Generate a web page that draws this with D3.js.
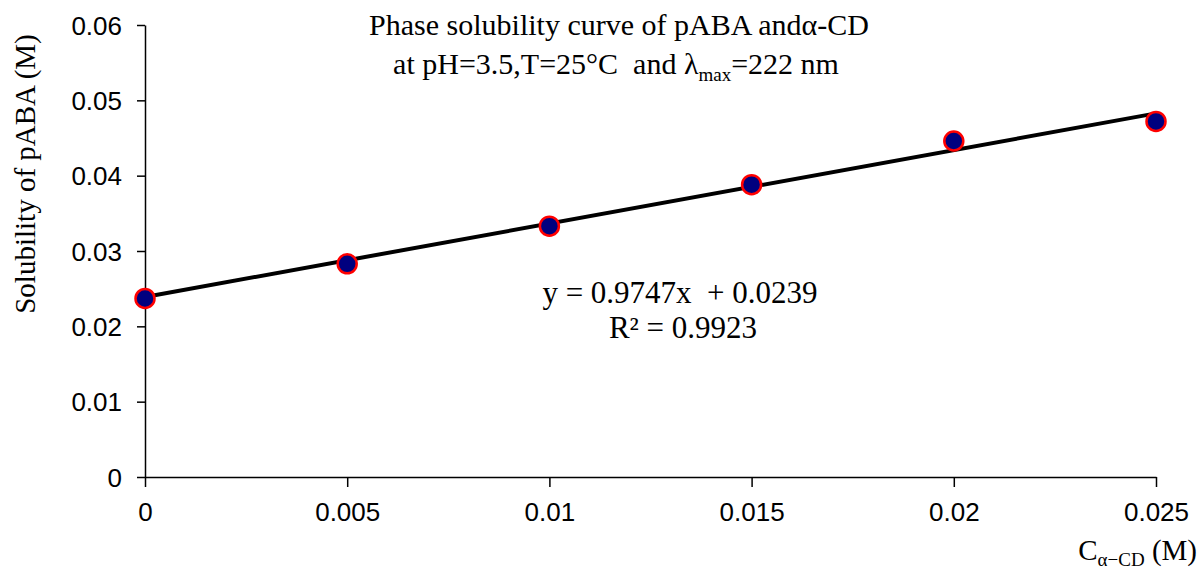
<!DOCTYPE html>
<html><head><meta charset="utf-8">
<script src="https://cdn.jsdelivr.net/npm/d3@7"></script>
<style>body{margin:0;background:#fff}svg{display:block}text{white-space:pre}</style>
</head><body>
<svg id="c" width="1200" height="574"></svg>
<script>
const concentrations = [0, 0.005, 0.01, 0.015, 0.02, 0.025];
const solubility = [0.0237, 0.0283, 0.0333, 0.0388, 0.0446, 0.0472];
const xTicks = [0, 0.005, 0.01, 0.015, 0.02, 0.025];
const yTicks = [0, 0.01, 0.02, 0.03, 0.04, 0.05, 0.06];
const slope = 0.9747, intercept = 0.0239;

const svg = d3.select("#c");
const x = d3.scaleLinear().domain([0, 0.025]).range([145, 1156]);
const y = d3.scaleLinear().domain([0, 0.06]).range([477, 25]);

const fmt = d => String(+d.toFixed(3));
const yAxis = svg.append("g").attr("transform", "translate(145,0)")
  .call(d3.axisLeft(y).tickValues(yTicks).tickSize(8).tickSizeOuter(0).tickFormat(fmt));
const xAxis = svg.append("g").attr("transform", "translate(0,477)")
  .call(d3.axisBottom(x).tickValues(xTicks).tickSize(10).tickSizeOuter(0).tickFormat(fmt));
[xAxis, yAxis].forEach(g => {
  g.selectAll("path,line").attr("stroke", "#000").attr("stroke-width", 1.5);
  g.selectAll("text").attr("font-family", "Liberation Sans, Arial, sans-serif").attr("font-size", 26).attr("fill", "#000");
});
yAxis.selectAll("text").attr("x", -23).attr("dy", "0.35em");
xAxis.selectAll("text").attr("y", 44).attr("dy", 0);

// trendline
svg.append("line")
  .attr("x1", x(0)).attr("y1", y(intercept))
  .attr("x2", x(0.025)).attr("y2", y(slope * 0.025 + intercept))
  .attr("stroke", "#000").attr("stroke-width", 4);

svg.selectAll("circle.pt").data(concentrations).enter().append("circle")
  .attr("class", "pt")
  .attr("cx", d => x(d)).attr("cy", (d, i) => y(solubility[i]))
  .attr("r", 9.5).attr("fill", "#00007f").attr("stroke", "#ff0000").attr("stroke-width", 2.5);

const serif = "Liberation Serif, Times New Roman, serif";
svg.append("text").attr("font-family", serif).attr("font-size", 30).attr("text-anchor", "middle").attr("fill", "#000")
  .attr("x", 619).attr("y", 35).text("Phase solubility curve of pABA andα-CD");
const t2 = svg.append("text").attr("font-family", serif).attr("font-size", 30).attr("text-anchor", "middle").attr("fill", "#000").attr("x", 616).attr("y", 74);
t2.append("tspan").text("at pH=3.5,T=25°C  and λ");
t2.append("tspan").attr("font-size", 19).attr("dy", 7).text("max");
t2.append("tspan").attr("dy", -7).text("=222 nm");

svg.append("text").attr("font-family", serif).attr("font-size", 31).attr("text-anchor", "middle")
  .attr("x", 680).attr("y", 303).text("y = 0.9747x  + 0.0239");
svg.append("text").attr("font-family", serif).attr("font-size", 31).attr("text-anchor", "middle")
  .attr("x", 683).attr("y", 338).text("R² = 0.9923");

svg.append("text").attr("font-family", serif).attr("font-size", 29).attr("text-anchor", "middle")
  .attr("transform", "translate(35,174) rotate(-90)").text("Solubility of pABA (M)");

const xl = svg.append("text").attr("font-family", serif).attr("font-size", 29).attr("text-anchor", "end")
  .attr("x", 1197).attr("y", 560);
xl.append("tspan").text("C");
xl.append("tspan").attr("font-size", 19).attr("dy", 6).text("α−CD");
xl.append("tspan").attr("dy", -6).text(" (M)");
</script>
</body></html>
